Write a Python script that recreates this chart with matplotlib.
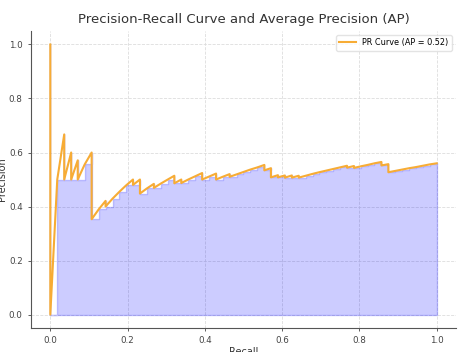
import matplotlib
matplotlib.use("Agg")
import matplotlib.pyplot as plt

# PR curve points (recall ascending)
recall = [0.000, 0.000, 0.018, 0.036, 0.036, 0.054, 0.054, 0.071, 0.071, 0.089,
          0.107, 0.107, 0.107, 0.107, 0.107, 0.107, 0.107, 0.107, 0.125, 0.143,
          0.143, 0.161, 0.179, 0.196, 0.214, 0.214, 0.232, 0.232, 0.232, 0.232,
          0.250, 0.268, 0.268, 0.286, 0.304, 0.321, 0.321, 0.321, 0.339, 0.339,
          0.357, 0.375, 0.393, 0.393, 0.393, 0.411, 0.429, 0.429, 0.429, 0.446,
          0.464, 0.464, 0.482, 0.500, 0.518, 0.536, 0.554, 0.554, 0.554, 0.571,
          0.571, 0.571, 0.571, 0.571, 0.589, 0.589, 0.607, 0.607, 0.625, 0.625,
          0.643, 0.643, 0.661, 0.679, 0.696, 0.714, 0.732, 0.750, 0.768, 0.768,
          0.786, 0.786, 0.804, 0.821, 0.839, 0.857, 0.857, 0.857, 0.875, 0.875,
          0.875, 0.875, 0.875, 0.875, 0.893, 0.911, 0.929, 0.946, 0.964, 0.982,
          1.000]
precision = [1.000, 0.000, 0.500, 0.667, 0.500, 0.600, 0.500, 0.571, 0.500, 0.556,
             0.600, 0.545, 0.500, 0.462, 0.429, 0.400, 0.375, 0.353, 0.389, 0.421,
             0.400, 0.429, 0.455, 0.478, 0.500, 0.480, 0.500, 0.481, 0.464, 0.448,
             0.467, 0.484, 0.469, 0.485, 0.500, 0.514, 0.500, 0.486, 0.500, 0.487,
             0.500, 0.512, 0.524, 0.512, 0.500, 0.511, 0.522, 0.511, 0.500, 0.510,
             0.520, 0.510, 0.519, 0.528, 0.537, 0.545, 0.554, 0.544, 0.534, 0.542,
             0.533, 0.525, 0.516, 0.508, 0.516, 0.508, 0.515, 0.507, 0.515, 0.507,
             0.514, 0.507, 0.514, 0.521, 0.527, 0.533, 0.539, 0.545, 0.551, 0.544,
             0.550, 0.543, 0.549, 0.554, 0.560, 0.565, 0.558, 0.552, 0.557, 0.551,
             0.544, 0.538, 0.533, 0.527, 0.532, 0.537, 0.542, 0.546, 0.551, 0.556,
             0.560]
ap = 0.52

fig, ax = plt.subplots(figsize=(4.66, 3.52), dpi=100)
fig.subplots_adjust(left=0.0665, right=0.9785, top=0.912, bottom=0.068)

ax.fill_between(recall, precision, step="post", alpha=0.2, color="b")
ax.plot(recall, precision, color="#f7ac35", lw=1.5, label=f"PR Curve (AP = {ap:.2f})")

ax.set_title("Precision-Recall Curve and Average Precision (AP)", fontsize=9.5, color="#333333")
ax.set_xlabel("Recall", fontsize=7, color="#333333", labelpad=1)
ax.set_ylabel("Precision", fontsize=7, color="#333333", labelpad=1)
ax.tick_params(labelsize=6.3, colors="#444444", length=2.5, width=0.6)

for side in ["top", "right"]:
    ax.spines[side].set_visible(False)
for side in ["left", "bottom"]:
    ax.spines[side].set_color("#555555")
    ax.spines[side].set_linewidth(0.8)

ax.grid(True, linestyle="--", color="#dddddd", linewidth=0.6)
ax.set_axisbelow(True)
ax.legend(loc="upper right", fontsize=5.9, edgecolor="#dddddd")

plt.savefig("out.png", dpi=100)
